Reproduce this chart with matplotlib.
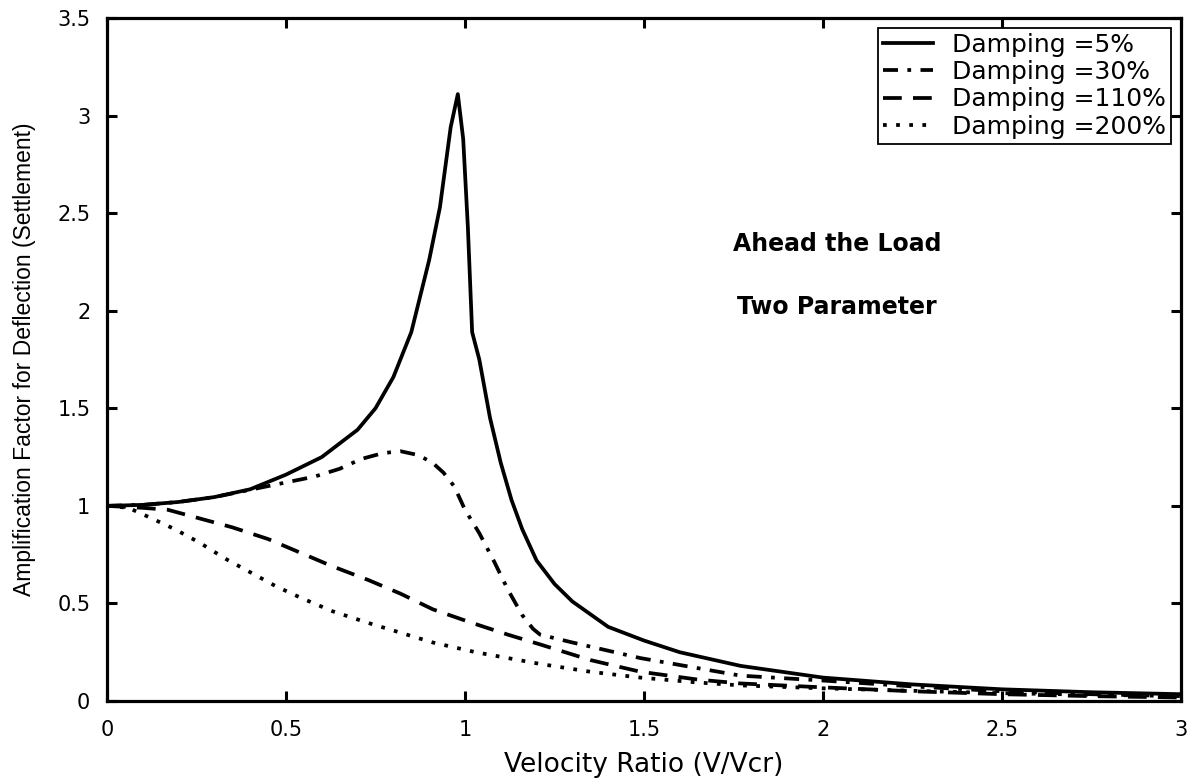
import matplotlib
matplotlib.use("Agg")
import matplotlib.pyplot as plt

# values
x_5 = [0, 0.1, 0.2, 0.3, 0.35, 0.4, 0.5, 0.6, 0.65, 0.7, 0.75, 0.8, 0.85, 0.9,
       0.93, 0.96, 0.98, 0.995, 1.008, 1.02, 1.04, 1.07, 1.1, 1.13, 1.16, 1.2,
       1.25, 1.3, 1.4, 1.5, 1.6, 1.77, 2.0, 2.25, 2.5, 2.75, 3.0]
y_5 = [1.0, 1.005, 1.02, 1.045, 1.065, 1.085, 1.16, 1.25, 1.32, 1.39, 1.50,
       1.66, 1.89, 2.26, 2.53, 2.94, 3.11, 2.88, 2.43, 1.89, 1.75, 1.45, 1.22,
       1.03, 0.88, 0.72, 0.60, 0.51, 0.38, 0.31, 0.25, 0.18, 0.12, 0.085, 0.06,
       0.045, 0.035]

x_30 = [0, 0.1, 0.2, 0.3, 0.42, 0.5, 0.58, 0.65, 0.71, 0.77, 0.82, 0.87, 0.91,
        0.94, 0.97, 1.0, 1.04, 1.08, 1.12, 1.16, 1.19, 1.21, 1.3, 1.49, 1.77,
        2.0, 2.25, 2.5, 2.75, 3.0]
y_30 = [1.0, 1.005, 1.02, 1.045, 1.09, 1.12, 1.15, 1.19, 1.24, 1.27, 1.28,
        1.26, 1.22, 1.17, 1.10, 0.98, 0.86, 0.72, 0.57, 0.44, 0.37, 0.34, 0.30,
        0.22, 0.13, 0.105, 0.075, 0.05, 0.035, 0.025]

x_110 = [0, 0.1, 0.17, 0.25, 0.35, 0.45, 0.54, 0.63, 0.73, 0.82, 0.91, 1.02,
         1.12, 1.21, 1.35, 1.49, 1.65, 1.77, 2.0, 2.25, 2.5, 2.75, 3.0]
y_110 = [1.0, 0.99, 0.98, 0.94, 0.89, 0.83, 0.76, 0.69, 0.62, 0.55, 0.47, 0.40,
         0.34, 0.29, 0.21, 0.15, 0.11, 0.09, 0.07, 0.05, 0.035, 0.025, 0.018]

x_200 = [0, 0.06, 0.12, 0.19, 0.26, 0.33, 0.4, 0.47, 0.54, 0.63, 0.73, 0.82,
         0.91, 1.03, 1.21, 1.35, 1.49, 1.65, 1.77, 2.0, 2.5, 3.0]
y_200 = [1.0, 0.99, 0.94, 0.88, 0.81, 0.73, 0.66, 0.59, 0.53, 0.46, 0.40, 0.35,
         0.30, 0.25, 0.19, 0.15, 0.12, 0.095, 0.08, 0.065, 0.04, 0.025]

labels = ["Damping =5%", "Damping =30%", "Damping =110%", "Damping =200%"]
x_ticks = [0, 0.5, 1, 1.5, 2, 2.5, 3]
x_tick_labels = ["0", "0.5", "1", "1.5", "2", "2.5", "3"]
y_ticks = [0, 0.5, 1, 1.5, 2, 2.5, 3, 3.5]
y_tick_labels = ["0", "0.5", "1", "1.5", "2", "2.5", "3", "3.5"]

plt.rcParams["font.family"] = ["DejaVu Sans"]

fig = plt.figure(figsize=(11.98, 7.81), dpi=100)
ax = fig.add_axes([0.0893, 0.1024, 0.8965, 0.8746])

lw = 2.7
ax.plot(x_5, y_5, color="black", lw=lw, linestyle="-", label=labels[0])
ax.plot(x_30, y_30, color="black", lw=lw, linestyle=(0, (4, 2.5, 1, 2.5)), label=labels[1])
ax.plot(x_110, y_110, color="black", lw=lw, linestyle=(0, (5, 3)), label=labels[2])
ax.plot(x_200, y_200, color="black", lw=lw, linestyle=(0, (1, 2.5)), label=labels[3])

ax.set_xlim(0, 3)
ax.set_ylim(0, 3.5)
ax.set_xticks(x_ticks)
ax.set_xticklabels(x_tick_labels)
ax.set_yticks(y_ticks)
ax.set_yticklabels(y_tick_labels)
ax.tick_params(direction="in", length=7, width=2.2, labelsize=15,
               top=True, right=True)
ax.tick_params(axis="y", pad=12)
ax.tick_params(axis="x", pad=14)
for spine in ax.spines.values():
    spine.set_linewidth(2.3)

ax.set_xlabel("Velocity Ratio (V/Vcr)", fontsize=19, labelpad=8)
ax.set_ylabel("Amplification Factor for Deflection (Settlement)",
              fontsize=16.5, family=["Liberation Sans", "DejaVu Sans"], labelpad=15)

ax.text(2.04, 2.34, "Ahead the Load", fontsize=17, fontweight="bold",
        ha="center", va="center")
ax.text(2.04, 2.02, "Two Parameter", fontsize=17, fontweight="bold",
        ha="center", va="center")

leg = ax.legend(loc="upper right", fontsize=18, fancybox=False, framealpha=1,
                edgecolor="black", handlelength=2.0, labelspacing=0.13,
                borderaxespad=0.4, borderpad=0.2, handletextpad=0.76)
leg.get_frame().set_linewidth(1.3)

fig.savefig("out.png", dpi=100)
